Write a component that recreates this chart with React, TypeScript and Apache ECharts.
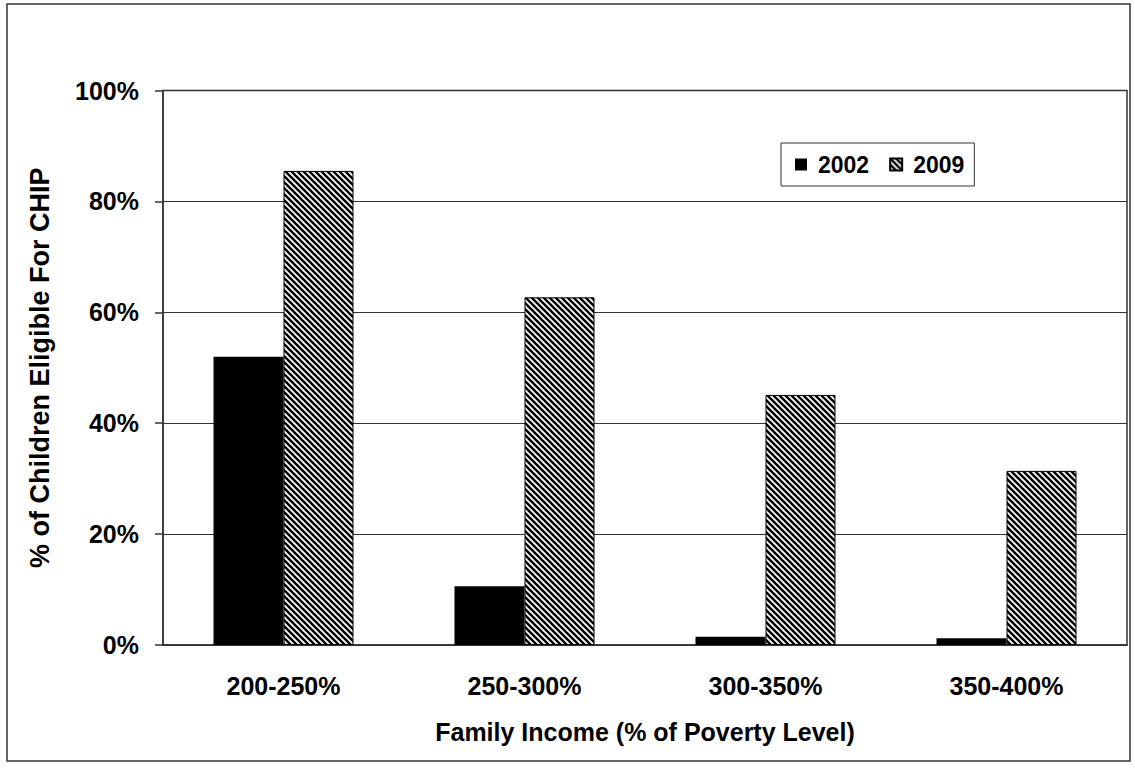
import React, { useEffect, useRef } from "react";
import * as echarts from "echarts";

const categories = ["200-250%", "250-300%", "300-350%", "350-400%"];
const series2002 = [52.0, 10.6, 1.5, 1.2];
const series2009 = [85.5, 62.7, 45.1, 31.4];
const seriesNames = ["2002", "2009"];
const yTicks = { min: 0, max: 100, interval: 20 };

function makeHatch(): HTMLCanvasElement {
  const s = 6;
  const c = document.createElement("canvas");
  c.width = s;
  c.height = s;
  const ctx = c.getContext("2d")!;
  ctx.fillStyle = "#ffffff";
  ctx.fillRect(0, 0, s, s);
  ctx.strokeStyle = "#000000";
  ctx.lineWidth = 2.4;
  for (const off of [-s, 0, s]) {
    ctx.beginPath();
    ctx.moveTo(-1, -1 + off);
    ctx.lineTo(s + 1, s + 1 + off);
    ctx.stroke();
  }
  return c;
}

export default function App() {
  const ref = useRef<HTMLDivElement>(null);
  useEffect(() => {
    if (!ref.current) return;
    const chart = echarts.init(ref.current, undefined, { renderer: "svg" });
    const font = "'Liberation Sans', Arial, sans-serif";
    const hatch = makeHatch();
    chart.setOption({
      animation: false,
      backgroundColor: "#ffffff",
      textStyle: { fontFamily: font },
      graphic: [
        {
          type: "rect",
          shape: { x: 7, y: 4, width: 1123, height: 757 },
          style: { fill: "none", stroke: "#333", lineWidth: 1.5 },
          silent: true,
        },
      ],
      grid: {
        left: 163,
        top: 90.5,
        right: 8,
        bottom: 123,
        show: true,
        borderColor: "#333",
        borderWidth: 1.5,
        backgroundColor: "transparent",
      },
      legend: {
        data: seriesNames,
        left: 781,
        top: 143,
        orient: "horizontal",
        icon: "rect",
        itemWidth: 12,
        itemHeight: 12,
        itemGap: 20,
        padding: [10, 10, 10, 14],
        borderColor: "#333",
        borderWidth: 1,
        backgroundColor: "#fff",
        textStyle: {
          fontFamily: font,
          fontWeight: "bold",
          fontSize: 23,
          color: "#000",
          padding: [0, 0, 0, 6],
        },
      },
      xAxis: {
        type: "category",
        data: categories,
        name: "Family Income (% of Poverty Level)",
        nameLocation: "middle",
        nameGap: 74,
        nameTextStyle: { fontFamily: font, fontWeight: "bold", fontSize: 25, color: "#000" },
        axisLine: { show: true, lineStyle: { color: "#333", width: 1.5 } },
        axisTick: { show: false },
        axisLabel: {
          fontFamily: font,
          fontWeight: "bold",
          fontSize: 25,
          color: "#000",
          margin: 28,
        },
      },
      yAxis: {
        type: "value",
        min: yTicks.min,
        max: yTicks.max,
        interval: yTicks.interval,
        name: "% of Children Eligible For CHIP",
        nameLocation: "middle",
        nameGap: 110,
        nameTextStyle: { fontFamily: font, fontWeight: "bold", fontSize: 27, color: "#000" },
        axisLine: { show: true, lineStyle: { color: "#333", width: 1.5 } },
        axisTick: { show: true, inside: false, length: 8, lineStyle: { color: "#333", width: 1.5 } },
        splitLine: { show: true, lineStyle: { color: "#333", width: 1 } },
        axisLabel: {
          formatter: "{value}%",
          fontFamily: font,
          fontWeight: "bold",
          fontSize: 25,
          color: "#000",
          margin: 24,
        },
      },
      series: [
        {
          name: seriesNames[0],
          type: "bar",
          data: series2002,
          barWidth: 70,
          barGap: "0%",
          itemStyle: { color: "#000000" },
        },
        {
          name: seriesNames[1],
          type: "bar",
          data: series2009,
          barWidth: 70,
          barGap: "0%",
          itemStyle: {
            color: { image: hatch, repeat: "repeat" },
            borderColor: "#000",
            borderWidth: 1,
          },
        },
      ],
    });
    return () => chart.dispose();
  }, []);
  return (
    <div
      ref={ref}
      style={{ position: "absolute", left: 0, top: 0, width: 1135, height: 768 }}
    />
  );
}
